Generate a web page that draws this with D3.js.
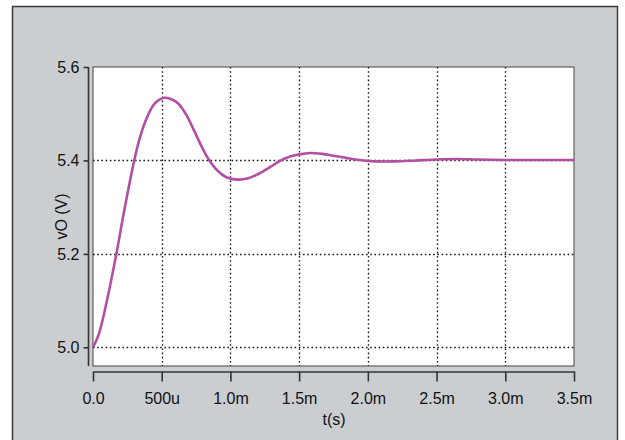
<!DOCTYPE html>
<html>
<head>
<meta charset="utf-8">
<script src="https://cdn.jsdelivr.net/npm/d3@7"></script>
<style>
  html, body { margin: 0; padding: 0; background: #ffffff; }
  svg { display: block; }
  text { font-family: "Liberation Sans", Arial, Helvetica, sans-serif; fill: #111; }
</style>
</head>
<body>
<svg id="chart" width="625" height="440"></svg>
<script>
// Transient response of the output voltage vO after a step
const timeSec = [0, 0.00004, 0.0001, 0.00017, 0.00023, 0.0003, 0.00034, 0.00038, 0.00045,
  0.00052, 0.00057, 0.00062, 0.00068, 0.00074, 0.00079, 0.00084, 0.0009, 0.00097,
  0.00105, 0.00113, 0.00121, 0.00129, 0.00136, 0.00143, 0.0015, 0.00158, 0.00167,
  0.00175, 0.00185, 0.00194, 0.00205, 0.0022, 0.00235, 0.0025, 0.00265, 0.0028,
  0.003, 0.00325, 0.0035];
const voltage = [5.000, 5.026, 5.098, 5.200, 5.297, 5.400, 5.447, 5.483, 5.522,
  5.534, 5.531, 5.522, 5.497, 5.461, 5.430, 5.403, 5.380, 5.364,
  5.359, 5.362, 5.372, 5.386, 5.399, 5.408, 5.413, 5.416, 5.414,
  5.410, 5.405, 5.401, 5.398, 5.398, 5.400, 5.402, 5.403, 5.402,
  5.401, 5.401, 5.401];

const xTicks = [0, 0.0005, 0.001, 0.0015, 0.002, 0.0025, 0.003, 0.0035];
const xTickLabels = ["0.0", "500u", "1.0m", "1.5m", "2.0m", "2.5m", "3.0m", "3.5m"];
const yTicks = [5.0, 5.2, 5.4, 5.6];
const yTickLabels = ["5.0", "5.2", "5.4", "5.6"];

const svg = d3.select("#chart");

const plot = { left: 93, right: 574, top: 67, bottom: 366 };

const x = d3.scaleLinear().domain([0, 0.0035]).range([plot.left, plot.right]);
const y = d3.scaleLinear().domain([4.96, 5.6]).range([plot.bottom, plot.top]);

// Outer panel
svg.append("rect")
  .attr("x", 12.5).attr("y", 6.5).attr("width", 605).attr("height", 440)
  .attr("fill", "#cbced1").attr("stroke", "#3a3a3a").attr("stroke-width", 1.5);

// Plot area
svg.append("rect")
  .attr("x", plot.left).attr("y", plot.top)
  .attr("width", plot.right - plot.left).attr("height", plot.bottom - plot.top)
  .attr("fill", "#ffffff").attr("stroke", "#444").attr("stroke-width", 1);

// Dotted grid
const grid = svg.append("g")
  .attr("stroke", "#1a1a1a").attr("stroke-width", 1.4).attr("stroke-dasharray", "1.6,2.6");
grid.selectAll("line.v")
  .data(xTicks.filter(d => d > 0 && d < 0.0035))
  .join("line").attr("class", "v")
  .attr("x1", d => Math.round(x(d)) + 0.5).attr("x2", d => Math.round(x(d)) + 0.5)
  .attr("y1", plot.top).attr("y2", plot.bottom);
grid.selectAll("line.h")
  .data(yTicks.filter(d => d < 5.6))
  .join("line").attr("class", "h")
  .attr("y1", d => Math.round(y(d)) + 0.5).attr("y2", d => Math.round(y(d)) + 0.5)
  .attr("x1", plot.left).attr("x2", plot.right);

// Y axis, offset to the left of the plot box
const yAxis = d3.axisLeft(y)
  .tickValues(yTicks)
  .tickFormat((d, i) => yTickLabels[i])
  .tickSize(5).tickPadding(4).tickSizeOuter(0);
const gy = svg.append("g").attr("transform", "translate(88.5,0)").call(yAxis);
gy.select(".domain").attr("d", `M0,${plot.top}V${plot.bottom}`);

// X axis, offset below the plot box
const xAxis = d3.axisBottom(x)
  .tickValues(xTicks)
  .tickFormat((d, i) => xTickLabels[i])
  .tickSize(10).tickPadding(11).tickSizeOuter(0);
const gx = svg.append("g").attr("transform", "translate(0,371.5)").call(xAxis);

[gx, gy].forEach(g => {
  g.attr("font-size", 16).attr("font-family", "'Liberation Sans', Arial, sans-serif");
  g.select(".domain").attr("stroke", "#333").attr("stroke-width", 1.6);
  g.selectAll(".tick line").attr("stroke", "#333").attr("stroke-width", 1.6);
  g.selectAll(".tick text").attr("fill", "#111");
});

// Axis titles
svg.append("text")
  .attr("x", 334).attr("y", 425)
  .attr("text-anchor", "middle").attr("font-size", 16)
  .text("t(s)");
svg.append("text")
  .attr("transform", `translate(67,${(plot.top + plot.bottom) / 2}) rotate(-90)`)
  .attr("text-anchor", "middle").attr("font-size", 16)
  .text("vO (V)");

// Response curve
const line = d3.line()
  .x((d, i) => x(timeSec[i]))
  .y(d => y(d))
  .curve(d3.curveCatmullRom.alpha(0.5));
svg.append("path")
  .datum(voltage)
  .attr("d", line)
  .attr("fill", "none")
  .attr("stroke", "#b24fa2")
  .attr("stroke-width", 2.6)
  .attr("stroke-linejoin", "round");
</script>
</body>
</html>
